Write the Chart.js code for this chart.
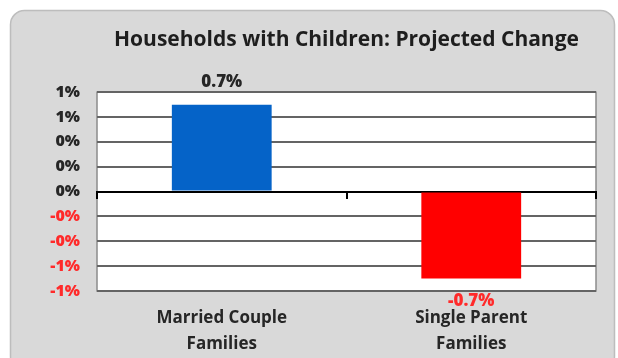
<!DOCTYPE html>
<html>
<head>
<meta charset="utf-8">
<script src="https://cdn.jsdelivr.net/npm/chart.js@4/dist/chart.umd.min.js"></script>
<style>
  html, body { margin: 0; padding: 0; background: #ffffff; }
  #wrap { width: 618px; height: 358px; }
</style>
</head>
<body>
<div id="wrap"><canvas id="myChange" width="618" height="358"></canvas></div>
<script>
// chart data
const categories = [["Married Couple", "Families"], ["Single Parent", "Families"]];
const changes = [0.7, -0.7];                 // projected change in %
const barColors = ["#0563c8", "#ff0000"];
const yMin = -0.8, yMax = 0.8, yStep = 0.2;  // axis shows rounded values: 1%, 1%, 0%, ...

const FONT = "'Open Sans', Lato, sans-serif";

// turns a tick value into the rounded label the original shows ("-0%", "1%", ...)
function pctLabel(v) {
    if (Math.abs(v) < 1e-9) return "0%";
    return (v < 0 ? "-" : "") + Math.round(Math.abs(v)) + "%";
}

// gray rounded panel behind everything and a white plot area
const panelPlugin = {
    id: "panel",
    beforeDraw(chart) {
        const ctx = chart.ctx;
        const a = chart.chartArea;
        ctx.save();
        ctx.fillStyle = "#ffffff";
        ctx.fillRect(0, 0, chart.width, chart.height);
        ctx.beginPath();
        ctx.roundRect(10.5, 10.5, 604, 360, 14);
        ctx.fillStyle = "#d9d9d9";
        ctx.fill();
        ctx.strokeStyle = "#bdbdbd";
        ctx.lineWidth = 1.5;
        ctx.stroke();
        ctx.fillStyle = "#ffffff";
        ctx.fillRect(a.left, a.top, a.right - a.left, a.bottom - a.top);
        ctx.strokeStyle = "#8c8c8c";
        ctx.lineWidth = 1.5;
        ctx.strokeRect(a.left, a.top, a.right - a.left, a.bottom - a.top);
        ctx.restore();
    }
};

// value labels above / below the bars
const valueLabels = {
    id: "valueLabels",
    afterDatasetsDraw(chart) {
        const ctx = chart.ctx;
        const meta = chart.getDatasetMeta(0);
        ctx.save();
        ctx.font = "800 17px " + FONT;
        ctx.textAlign = "center";
        ctx.textBaseline = "middle";
        meta.data.forEach((bar, i) => {
            const v = changes[i];
            ctx.fillStyle = v < 0 ? "#ff2a2a" : "#262626";
            const y = v < 0 ? bar.y + 23 : bar.y - 22;
            ctx.fillText(v.toFixed(1) + "%", bar.x, y);
        });
        ctx.restore();
    }
};

const config = {
    type: "bar",
    data: {
        labels: categories,
        datasets: [{
            data: changes,
            backgroundColor: barColors,
            borderWidth: 0,
            barPercentage: 0.8,
            categoryPercentage: 0.5
        }]
    },
    options: {
        responsive: false,
        animation: false,
        layout: { padding: { left: 10, right: 22, top: 0, bottom: 0 } },
        plugins: {
            legend: { display: false },
            tooltip: { enabled: false },
            title: {
                display: true,
                fullSize: false,
                text: "Households with Children: Projected Change",
                color: "#1e1e1e",
                font: { family: FONT, size: 21, weight: "bold", lineHeight: 1.2 },
                padding: { top: 27, bottom: 40 }
            }
        },
        scales: {
            x: {
                offset: true,
                grid: { display: false },
                border: { display: false },
                afterFit(scale) { scale.height = 67; },
                ticks: {
                    color: "#262626",
                    padding: 6,
                    maxRotation: 0,
                    font: { family: FONT, size: 17, weight: "bold", lineHeight: 1.53 }
                }
            },
            x2: {
                type: "category",
                axis: "x",
                position: { y: 0 },
                offset: true,
                ticks: { display: false },
                grid: { offset: true, drawOnChartArea: false, tickLength: 6, color: "#000000", lineWidth: 2 },
                border: { color: "#000000", width: 2 }
            },
            y: {
                min: yMin,
                max: yMax,
                afterFit(scale) { scale.width = 87; },
                border: { display: false },
                grid: {
                    drawTicks: false,
                    color: ctx => ctx.tick && Math.abs(ctx.tick.value) < 1e-9 ? "#000000" : "#646464",
                    lineWidth: ctx => ctx.tick && Math.abs(ctx.tick.value) < 1e-9 ? 2 : 2
                },
                ticks: {
                    stepSize: yStep,
                    padding: 17,
                    color: ctx => ctx.tick && ctx.tick.value < -1e-9 ? "#ff2a2a" : "#262626",
                    font: { family: FONT, size: 16, weight: "800" },
                    callback: v => pctLabel(v)
                }
            }
        }
    },
    plugins: [panelPlugin, valueLabels]
};

const myChange = new Chart(document.getElementById("myChange").getContext("2d"), config);
</script>
</body>
</html>
